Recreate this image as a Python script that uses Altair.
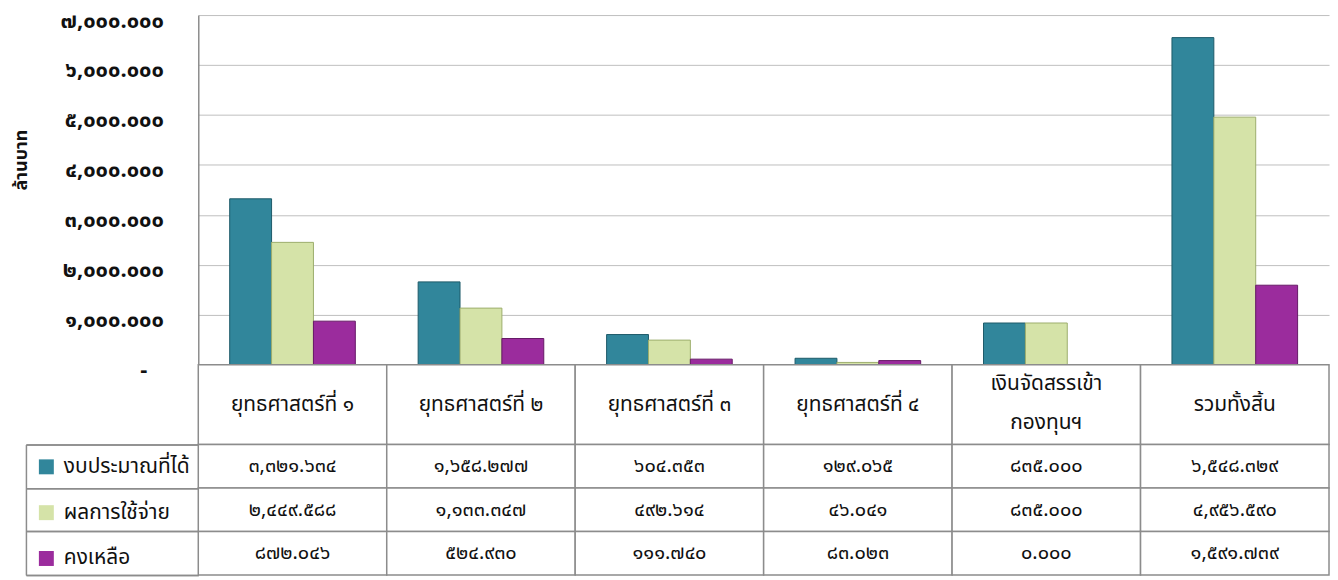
import altair as alt
import pandas as pd

# ---------------- data ----------------
categories = ["ยุทธศาสตร์ที่ ๑", "ยุทธศาสตร์ที่ ๒", "ยุทธศาสตร์ที่ ๓",
              "ยุทธศาสตร์ที่ ๔", "เงินจัดสรรเข้ากองทุนฯ", "รวมทั้งสิ้น"]
category_labels = ["ยุทธศาสตร์ที่ ๑", "ยุทธศาสตร์ที่ ๒", "ยุทธศาสตร์ที่ ๓",
                   "ยุทธศาสตร์ที่ ๔", "เงินจัดสรรเข้า\nกองทุนฯ", "รวมทั้งสิ้น"]
series = ["งบประมาณที่ได้", "ผลการใช้จ่าย", "คงเหลือ"]
budget = [3321.634, 1658.277, 604.353, 129.065, 835.000, 6548.329]
spent = [2449.588, 1133.347, 492.614, 46.041, 835.000, 4956.590]
remaining = [872.046, 524.930, 111.740, 83.023, 0.000, 1591.739]
y_tick_values = [0, 1000, 2000, 3000, 4000, 5000, 6000, 7000]
y_tick_labels = ["-\u2002\u00a0\u200b", "๑,๐๐๐.๐๐๐", "๒,๐๐๐.๐๐๐", "๓,๐๐๐.๐๐๐",
                 "๔,๐๐๐.๐๐๐", "๕,๐๐๐.๐๐๐", "๖,๐๐๐.๐๐๐", "๗,๐๐๐.๐๐๐"]

colors = ["#31869B", "#D5E3A8", "#9B2C9D"]
stroke_colors = ["#1E5A69", "#9DAE6C", "#661A67"]

THAI = str.maketrans("0123456789", "๐๑๒๓๔๕๖๗๘๙")


def thai_num(v):
    return f"{v:,.3f}".translate(THAI)


rows = []
for s, vals in zip(series, [budget, spent, remaining]):
    for c, v in zip(categories, vals):
        rows.append({"category": c, "series": s, "value": v, "label": thai_num(v)})
df = pd.DataFrame(rows)
hdr = pd.DataFrame({"category": categories, "label": category_labels})

FONT = "Noto Sans Thai, Noto Sans"
GRID = "#BFBFBF"
LINE = "#8C8C8C"
W = 1135

x_scale = alt.Scale(domain=categories, paddingInner=0, paddingOuter=0)
label_expr = "[" + ",".join(f"'{t}'" for t in y_tick_labels) + "][round(datum.value/1000)]"

bars = alt.Chart(df).mark_bar(strokeWidth=1).encode(
    x=alt.X("category:N", scale=x_scale, axis=None, sort=categories),
    xOffset=alt.XOffset("series:N", sort=series,
                        scale=alt.Scale(domain=series, paddingInner=0, paddingOuter=0.75)),
    y=alt.Y("value:Q", scale=alt.Scale(domain=[0, 7000], nice=False),
            axis=alt.Axis(values=y_tick_values, labelExpr=label_expr, title="ล้านบาท",
                          labelFont=FONT, labelFontSize=22, labelFontWeight="bold",
                          labelColor="#111111", labelPadding=35, labelOffset=5, ticks=False,
                          domainColor=LINE, domainWidth=1.5, gridColor=GRID, gridWidth=1,
                          titleFont=FONT, titleFontSize=18, titleFontWeight="bold",
                          titleColor="#111111", titleX=-177, titleY=145,
                          titleAlign="center", titleBaseline="middle", titleAngle=270)),
    color=alt.Color("series:N", sort=series, scale=alt.Scale(domain=series, range=colors),
                    legend=alt.Legend(orient="none", legendX=-163, legendY=443, title=None,
                                      symbolType="square", symbolSize=225,
                                      symbolStrokeWidth=0, labelFont=FONT,
                                      labelFontSize=21, labelColor="#111111",
                                      rowPadding=24, padding=0, labelOffset=7,
                                      labelLimit=250)),
    stroke=alt.Stroke("series:N", sort=series,
                      scale=alt.Scale(domain=series, range=stroke_colors), legend=None),
).properties(width=W, height=351)

hx = alt.X("category:N", scale=x_scale, axis=None, sort=categories)
header_cells = alt.Chart(hdr).mark_rect(fill="white", stroke=LINE, strokeWidth=1.5).encode(x=hx)
header_text1 = alt.Chart(hdr).transform_filter(
    "indexof(datum.label, '\\n') < 0"
).mark_text(font=FONT, fontSize=21, color="#111111").encode(x=hx, text="label:N")
header_text2 = alt.Chart(hdr).transform_filter(
    "indexof(datum.label, '\\n') >= 0"
).mark_text(font=FONT, fontSize=21, color="#111111", lineBreak="\n",
            lineHeight=40, dy=-21).encode(x=hx, text="label:N")
header = alt.layer(header_cells, header_text1, header_text2).properties(width=W, height=80)

row_y = alt.Y("series:N", sort=series,
              scale=alt.Scale(domain=series, paddingInner=0, paddingOuter=0),
              axis=alt.Axis(orient="left", title=None, labels=False, domain=False,
                            grid=False, ticks=True, tickBand="extent", tickExtra=True,
                            tickSize=173, tickColor=LINE, tickWidth=1.5))
base_c = alt.Chart(df).encode(
    x=alt.X("category:N", scale=x_scale, axis=None, sort=categories), y=row_y)
cells = base_c.mark_rect(fill="white", stroke=LINE, strokeWidth=1.5)
vals = base_c.mark_text(font=FONT, fontSize=20, fontWeight="normal",
                        color="#111111").encode(text="label:N")
border = alt.Chart(df).mark_point(opacity=0).encode(
    y=alt.Y("series:N", sort=series,
            scale=alt.Scale(domain=series, paddingInner=0, paddingOuter=0),
            axis=alt.Axis(orient="left", offset=173, labels=False, ticks=False,
                          grid=False, domain=True, domainColor=LINE, domainWidth=1.5,
                          title=None)))
table = alt.layer(cells, vals, border).resolve_axis(y="independent").properties(
    width=W, height=131)

chart = alt.vconcat(bars, header, table, spacing=0, bounds="flush").properties(
    padding={"left": 5, "top": 0, "right": 0, "bottom": 0}
).configure_view(stroke=None)

chart.save("out.html", embed_options={"renderer": "svg", "actions": False})
